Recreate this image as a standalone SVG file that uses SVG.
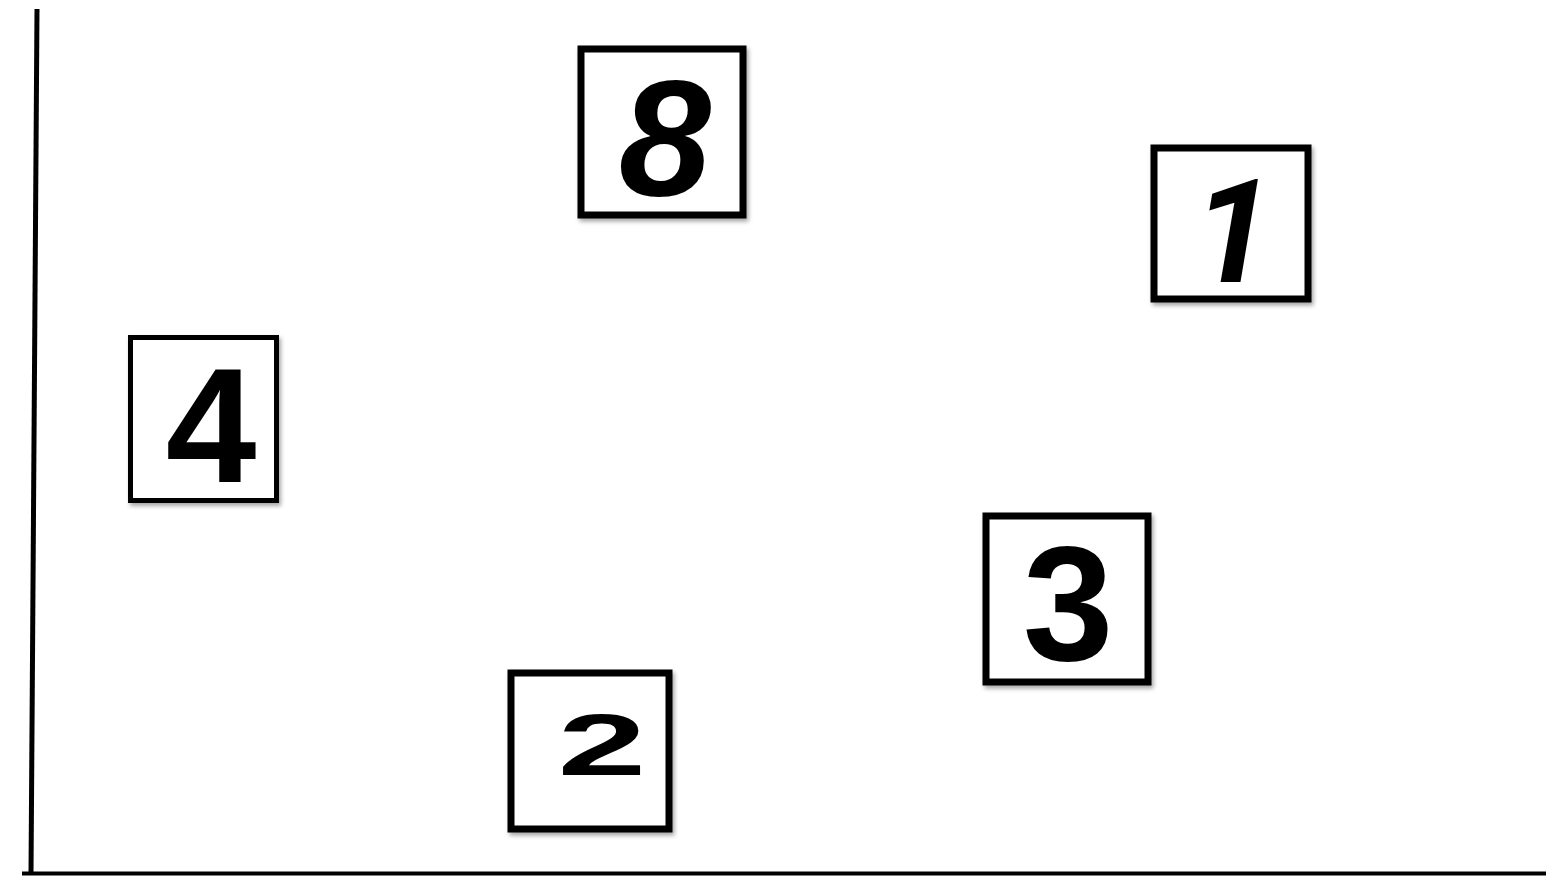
<svg xmlns="http://www.w3.org/2000/svg" width="1546" height="876" viewBox="0 0 1546 876">
<defs>
<filter id="sh" x="-10%" y="-10%" width="125%" height="125%">
<feDropShadow dx="2" dy="3" stdDeviation="2" flood-color="#000" flood-opacity="0.35"/>
</filter>
<style>
.box{fill:#fff;stroke:#000;stroke-width:7;filter:url(#sh)}
.thin{stroke-width:5}
.dig{font-family:"Liberation Sans","DejaVu Sans",sans-serif;font-weight:bold;fill:#000;text-anchor:middle}
.axis{stroke:#000;fill:none}
</style>
</defs>
<rect width="1546" height="876" fill="#fff"/>
<g id="axes">
<line class="axis" x1="37" y1="9" x2="31" y2="874" stroke-width="5"/>
<line class="axis" x1="22" y1="873.5" x2="1546" y2="873.5" stroke-width="4"/>
</g>
<g id="node-8">
<rect class="box" x="581" y="49" width="162" height="166"/>
<text class="dig" x="665" y="195" font-size="166" font-style="italic">8</text>
</g>
<g id="node-1">
<rect class="box" x="1154" y="148" width="154" height="151"/>
<text class="dig" x="1233" y="282" font-size="145" font-style="italic" style="font-family:Roboto,'Liberation Sans',sans-serif">1</text>
</g>
<g id="node-4">
<rect class="box thin" x="130.5" y="337.5" width="146" height="163"/>
<text class="dig" x="211" y="482" font-size="163">4</text>
</g>
<g id="node-3">
<rect class="box" x="986" y="516" width="162" height="166"/>
<text class="dig" x="1068" y="660" font-size="163">3</text>
</g>
<g id="node-2">
<rect class="box" x="511" y="673" width="158" height="156"/>
<text class="dig" transform="translate(602,775) scale(1.6,0.87)" x="0" y="0" font-size="100">2</text>
</g>
<g id="connectors"/>
</svg>
